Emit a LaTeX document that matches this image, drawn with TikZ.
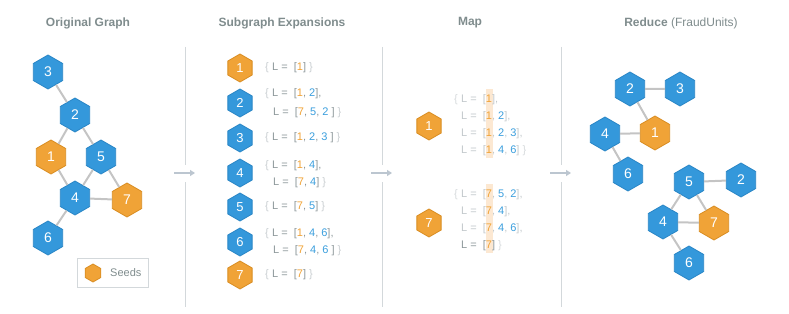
\documentclass[tikz,border=0pt]{standalone}
\usepackage{fontspec}
\setmainfont{Liberation Sans}
\usetikzlibrary{shapes.geometric,arrows.meta}
\definecolor{hexblue}{HTML}{3498DB}
\definecolor{hexblueb}{HTML}{2A86C6}
\definecolor{hexorg}{HTML}{F0A337}
\definecolor{hexorgb}{HTML}{D98D22}
\definecolor{titlec}{HTML}{7F8C8D}
\definecolor{edgec}{HTML}{C4C4C4}
\definecolor{sepc}{HTML}{D3D8DB}
\definecolor{arrc}{HTML}{BCC6D0}
\definecolor{txtc}{HTML}{8E989B}
\definecolor{brcc}{HTML}{C9CED1}
\definecolor{numo}{HTML}{F0A337}
\definecolor{numb}{HTML}{3A9EDD}
\definecolor{maptxt}{HTML}{C2C8CB}
\definecolor{mapbrc}{HTML}{D6DADC}
\definecolor{hilite}{HTML}{FCE8D2}
\newcommand\Or[1]{\textcolor{numo}{#1}}
\newcommand\Bl[1]{\textcolor{numb}{#1}}
\newcommand\Br[1]{\textcolor{brcc}{#1}}
\newcommand\Mb[1]{\textcolor{mapbrc}{#1}}
\newcommand\Lq{L =\hspace{3pt} }
\begin{document}
\begin{tikzpicture}[x=1pt,y=-1pt,
  hexa/.style={regular polygon, regular polygon sides=6, regular polygon rotate=30, inner sep=0pt, line width=0.8pt, text=white},
  bh/.style={hexa, fill=hexblue, draw=hexblueb},
  oh/.style={hexa, fill=hexorg, draw=hexorgb},
  big/.style={minimum size=34pt, font=\fontsize{14}{14}\selectfont},
  small/.style={minimum size=28pt, font=\fontsize{13}{13}\selectfont},
  tiny/.style={minimum size=18pt},
  edge/.style={draw=edgec, line width=2pt},
  ttl/.style={text=titlec, font=\fontsize{12}{14}\selectfont},
  sep/.style={draw=sepc, line width=1pt},
  flow/.style={draw=arrc, line width=1.5pt, -{Triangle[length=5pt,width=6pt]}},
  exl/.style={anchor=mid west, inner sep=0pt, text=txtc, font=\fontsize{11}{13}\selectfont},
  mpl/.style={exl, text=maptxt},
]
\useasboundingbox (0,0) rectangle (789,313);

% titles
\node[ttl] (t1) at (88,23) {\bfseries Original Graph};
\node[ttl] (t2) at (282,23) {\bfseries Subgraph Expansions};
\node[ttl] (t3) at (470,23) {\bfseries Map};
\node[ttl] (t4) at (681,23) {\textbf{Reduce} (FraudUnits)};

% separators and flow arrows
\foreach \i/\x in {1/185,2/382,3/561}{
  \coordinate (s\i t) at (\x,47);
  \coordinate (s\i a) at (\x,165);
  \coordinate (s\i b) at (\x,182);
  \coordinate (s\i e) at (\x,307);
  \draw[sep] (s\i t) -- (s\i a);
  \draw[sep] (s\i b) -- (s\i e);
  \coordinate (f\i s) at (\x-11,173);
  \coordinate (f\i e) at (\x+10,173);
  \draw[flow] (f\i s) -- (f\i e);
}

% original graph
\node[bh,big] (o3) at (48,72) {3};
\node[bh,big] (o2) at (75,115) {2};
\node[oh,big] (o1) at (51,157) {1};
\node[bh,big] (o5) at (101,157) {5};
\node[bh,big] (o4) at (75,198) {4};
\node[oh,big] (o7) at (127,200) {7};
\node[bh,big] (o6) at (48,238) {6};
\foreach \a/\b in {o3/o2,o2/o1,o2/o5,o1/o4,o5/o4,o5/o7,o4/o7,o4/o6}
  \draw[edge] (\a) -- (\b);

% legend
\node[draw=sepc, line width=0.8pt, minimum width=71pt, minimum height=29pt, inner sep=0pt] (leg) at (112.5,272.5) {};
\node[oh,tiny] (legh) at (93,273) {};
\node[anchor=west, inner sep=0pt, text=titlec, font=\fontsize{11}{13}\selectfont] (legt) at (110,273) {Seeds};

% subgraph expansions
\node[oh,small] (x1) at (240,68) {1};
\node[bh,small] (x2) at (240,103) {2};
\node[bh,small] (x3) at (240,138) {3};
\node[bh,small] (x4) at (240,173) {4};
\node[bh,small] (x5) at (240,207) {5};
\node[bh,small] (x6) at (240,242) {6};
\node[oh,small] (x7) at (240,275) {7};

\node[exl] (e1b) at (265,68) {\Br{\{}};
\node[exl] (e1a) at (272,68) {\Lq[\Or{1}] \Br{\}}};
\node[exl] (e2b) at (265,94) {\Br{\{}};
\node[exl] (e2a) at (272,94) {\Lq[\Or{1}, \Bl{2}],};
\node[exl] (e2c) at (273,113) {\Lq[\Or{7}, \Bl{5}, \Bl{2} ] \Br{\}}};
\node[exl] (e3b) at (265,138) {\Br{\{}};
\node[exl] (e3a) at (272,138) {\Lq[\Or{1}, \Bl{2}, \Bl{3} ] \Br{\}}};
\node[exl] (e4b) at (265,166) {\Br{\{}};
\node[exl] (e4a) at (272,166) {\Lq[\Or{1}, \Bl{4}],};
\node[exl] (e4c) at (273,183) {\Lq[\Or{7}, \Bl{4}] \Br{\}}};
\node[exl] (e5b) at (265,207) {\Br{\{}};
\node[exl] (e5a) at (272,207) {\Lq[\Or{7}, \Bl{5}] \Br{\}}};
\node[exl] (e6b) at (265,234) {\Br{\{}};
\node[exl] (e6a) at (272,234) {\Lq[\Or{1}, \Bl{4}, \Bl{6}],};
\node[exl] (e6c) at (273,251) {\Lq[\Or{7}, \Bl{4}, \Bl{6} ] \Br{\}}};
\node[exl] (e7b) at (265,275) {\Br{\{}};
\node[exl] (e7a) at (272,275) {\Lq[\Or{7}] \Br{\}}};

% map
\fill[hilite] (486,89) rectangle (493,158);
\fill[hilite] (486,184) rectangle (493,253);
\node[oh,small] (m1) at (429,126) {1};
\node[oh,small] (m7) at (429,223) {7};
\node[mpl] (m1b) at (454,100) {\Mb{\{}};
\node[mpl] (m1l1) at (461,100) {\Lq[\Or{1}],};
\node[mpl] (m1l2) at (461,117) {\Lq[\Or{1}, \Bl{2}],};
\node[mpl] (m1l3) at (461,134) {\Lq[\Or{1}, \Bl{2}, \Bl{3}],};
\node[mpl] (m1l4) at (461,151) {\Lq[\Or{1}, \Bl{4}, \Bl{6}] \Mb{\}}};
\node[mpl] (m7b) at (454,195) {\Mb{\{}};
\node[mpl] (m7l1) at (461,195) {\Lq[\Or{7}, \Bl{5}, \Bl{2}],};
\node[mpl] (m7l2) at (461,212) {\Lq[\Or{7}, \Bl{4}],};
\node[mpl] (m7l3) at (461,229) {\Lq[\Or{7}, \Bl{4}, \Bl{6}],};
\node[mpl,text=txtc] (m7l4) at (461,246) {\Lq[\Or{7}] \Mb{\}}};

% reduce
\node[bh,big] (r2) at (630,89) {2};
\node[bh,big] (r3) at (680,89) {3};
\node[oh,big] (r1) at (655,133) {1};
\node[bh,big] (r4) at (605,134) {4};
\node[bh,big] (r6) at (628,174) {6};
\node[bh,big] (q5) at (689,182) {5};
\node[bh,big] (q2) at (741,180) {2};
\node[bh,big] (q4) at (663,222) {4};
\node[oh,big] (q7) at (714,223) {7};
\node[bh,big] (q6) at (689,263) {6};
\foreach \a/\b in {r2/r3,r2/r1,r4/r1,r4/r6,q5/q2,q5/q4,q5/q7,q4/q7,q4/q6}
  \draw[edge] (\a) -- (\b);
\end{tikzpicture}
\end{document}
